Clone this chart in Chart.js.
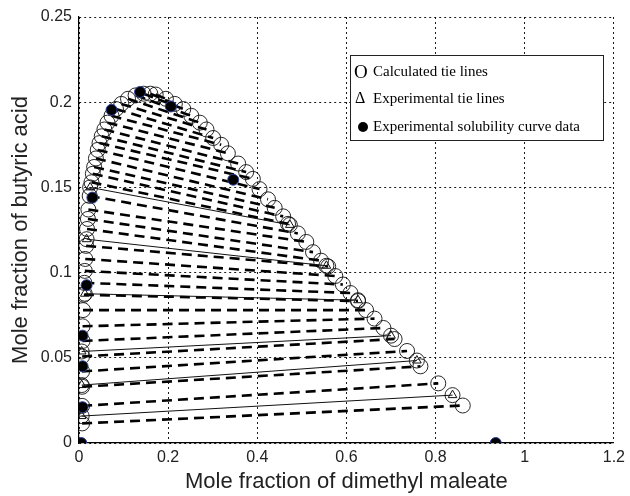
<!DOCTYPE html>
<html>
<head>
<meta charset="utf-8">
<script src="https://cdn.jsdelivr.net/npm/chart.js@4.4.0/dist/chart.umd.min.js"></script>
<style>
  body { margin: 0; background: #fff; }
  #chartBox { width: 630px; height: 496px; }
</style>
</head>
<body>
<div id="chartBox"><canvas id="tieChart" width="630" height="496"></canvas></div>
<script>
// Calculated tie lines: left (raffinate) and right (extract) end points
const calcLeftX = [0.007, 0.007, 0.007, 0.007, 0.007, 0.008, 0.008, 0.009, 0.011, 0.012, 0.013, 0.014,
    0.016, 0.018, 0.020, 0.021, 0.024, 0.028, 0.031, 0.034, 0.038, 0.042, 0.046, 0.051, 0.057, 0.064,
    0.073, 0.083, 0.095, 0.110, 0.127, 0.145, 0.160, 0.172];
const calcLeftY = [0.0115, 0.0218, 0.033, 0.042, 0.0508, 0.0599, 0.0685, 0.078, 0.087, 0.094, 0.101, 0.108,
    0.1157, 0.1256, 0.1315, 0.137, 0.145, 0.153, 0.158, 0.162, 0.167, 0.172, 0.176, 0.180, 0.184, 0.188,
    0.192, 0.196, 0.199, 0.202, 0.204, 0.205, 0.205, 0.2045];
const calcRightX = [0.861, 0.806, 0.766, 0.736, 0.708, 0.683, 0.663, 0.644, 0.626, 0.609, 0.592, 0.575,
    0.559, 0.543, 0.525, 0.510, 0.491, 0.469, 0.458, 0.439, 0.424, 0.405, 0.390, 0.375, 0.357, 0.334,
    0.319, 0.301, 0.286, 0.271, 0.252, 0.234, 0.215, 0.195];
const calcRightY = [0.022, 0.035, 0.045, 0.054, 0.061, 0.0675, 0.073, 0.078, 0.0833, 0.088, 0.093, 0.098,
    0.1036, 0.107, 0.112, 0.118, 0.123, 0.1286, 0.133, 0.138, 0.143, 0.149, 0.155, 0.159, 0.164, 0.170,
    0.175, 0.179, 0.184, 0.188, 0.192, 0.196, 0.199, 0.202];

// Experimental tie lines
const expLeftX = [0.006, 0.006, 0.006, 0.013, 0.017, 0.025];
const expLeftY = [0.0158, 0.034, 0.0537, 0.0876, 0.1196, 0.150];
const expRightX = [0.838, 0.758, 0.700, 0.626, 0.555, 0.473];
const expRightY = [0.0281, 0.0484, 0.063, 0.0838, 0.104, 0.128];

// Experimental solubility curve data
const solX = [0.005, 0.008, 0.008, 0.008, 0.017, 0.030, 0.073, 0.137, 0.206, 0.346, 0.935];
const solY = [0, 0.021, 0.045, 0.063, 0.0926, 0.144, 0.1955, 0.206, 0.1975, 0.1545, 0];

// Axis ticks
const xTicks = [0, 0.2, 0.4, 0.6, 0.8, 1, 1.2];
const xTickLabels = ['0', '0.2', '0.4', '0.6', '0.8', '1', '1.2'];
const yTicks = [0, 0.05, 0.1, 0.15, 0.2, 0.25];
const yTickLabels = ['0', '0.05', '0.1', '0.15', '0.2', '0.25'];

const legendLabels = ['Calculated tie lines', 'Experimental tie lines', 'Experimental solubility curve data'];

const datasets = [];

// Solubility points on top
datasets.push({
    data: solX.map((x, i) => ({ x: x, y: solY[i] })),
    showLine: false,
    pointStyle: 'circle',
    pointRadius: 5.5,
    pointBackgroundColor: '#000',
    pointBorderColor: '#2a3f9a',
    pointBorderWidth: 1,
    order: 0
});

// Experimental tie lines (solid, triangles)
expLeftX.forEach((x, i) => {
    datasets.push({
        data: [{ x: x, y: expLeftY[i] }, { x: expRightX[i], y: expRightY[i] }],
        showLine: true,
        borderColor: '#111',
        borderWidth: 1,
        pointStyle: 'triangle',
        pointRadius: 5,
        pointBackgroundColor: 'rgba(0,0,0,0)',
        pointBorderColor: '#111',
        pointBorderWidth: 1,
        order: 1
    });
    // calculated points at the experimental compositions
    datasets.push({
        data: [{ x: x, y: expLeftY[i] }, { x: expRightX[i], y: expRightY[i] }],
        showLine: false,
        pointStyle: 'circle',
        pointRadius: 7.5,
        pointBackgroundColor: 'rgba(0,0,0,0)',
        pointBorderColor: '#111',
        pointBorderWidth: 0.9,
        order: 2
    });
});

// Calculated tie lines (dashed, open circles)
calcLeftX.forEach((x, i) => {
    datasets.push({
        data: [{ x: x, y: calcLeftY[i] }, { x: calcRightX[i], y: calcRightY[i] }],
        showLine: true,
        borderColor: '#000',
        borderWidth: 2.6,
        borderDash: [10, 6],
        pointStyle: 'circle',
        pointRadius: 7.5,
        pointBackgroundColor: 'rgba(0,0,0,0)',
        pointBorderColor: '#111',
        pointBorderWidth: 0.9,
        order: 3
    });
});

// Boxed legend drawn inside the plot
const boxLegend = {
    id: 'boxLegend',
    afterDraw(chart) {
        const ctx = chart.ctx;
        ctx.save();
        ctx.fillStyle = '#fff';
        ctx.fillRect(350, 55, 253, 85);
        ctx.strokeStyle = '#222';
        ctx.lineWidth = 1;
        ctx.strokeRect(350.5, 55.5, 253, 85);

        ctx.fillStyle = '#000';
        ctx.textBaseline = 'middle';
        ctx.textAlign = 'left';
        ctx.font = '19px "Liberation Serif", "Times New Roman", serif';
        ctx.fillText('O', 354, 73);
        ctx.font = '16px "Liberation Serif", "Times New Roman", serif';
        ctx.fillText('\u0394', 355, 99);
        ctx.beginPath();
        ctx.arc(363, 127, 5, 0, Math.PI * 2);
        ctx.fill();

        ctx.font = '15px "Liberation Serif", "Times New Roman", serif';
        ctx.fillText(legendLabels[0], 373, 72);
        ctx.fillText(legendLabels[1], 373, 99);
        ctx.fillText(legendLabels[2], 373, 127);
        ctx.restore();
    }
};

const tickFont = { size: 16, family: '"Liberation Sans", Arial, sans-serif' };
const titleFont = { size: 22, family: '"Liberation Sans", Arial, sans-serif' };

new Chart(document.getElementById('tieChart'), {
    type: 'scatter',
    data: { datasets: datasets },
    options: {
        responsive: false,
        animation: false,
        devicePixelRatio: 1,
        layout: { padding: { top: 17, right: 14, left: 0, bottom: 0 } },
        plugins: {
            legend: { display: false },
            tooltip: { enabled: false }
        },
        scales: {
            x: {
                type: 'linear',
                min: 0,
                max: 1.2,
                afterBuildTicks: s => { s.ticks = xTicks.map(v => ({ value: v })); },
                afterFit: s => { s.height = 53; },
                ticks: {
                    font: tickFont,
                    color: '#222',
                    padding: 5,
                    callback: (v, i) => xTickLabels[i]
                },
                grid: { color: '#000', lineWidth: 0.9, drawTicks: false },
                border: { display: true, color: '#000', width: 1.2, dash: [2, 3] },
                title: {
                    display: true,
                    text: 'Mole fraction of dimethyl maleate',
                    font: titleFont,
                    color: '#222',
                    padding: { top: 0, bottom: 1 }
                }
            },
            y: {
                type: 'linear',
                min: 0,
                max: 0.25,
                afterBuildTicks: s => { s.ticks = yTicks.map(v => ({ value: v })); },
                afterFit: s => { s.width = 79; },
                ticks: {
                    font: tickFont,
                    color: '#222',
                    padding: 7,
                    callback: (v, i) => yTickLabels[i]
                },
                grid: { color: '#000', lineWidth: 0.9, drawTicks: false },
                border: { display: true, color: '#000', width: 1.2, dash: [2, 3] },
                title: {
                    display: true,
                    text: 'Mole fraction of butyric acid',
                    font: titleFont,
                    color: '#222',
                    padding: { top: 8, bottom: 0 }
                }
            }
        }
    },
    plugins: [boxLegend]
});
</script>
</body>
</html>
